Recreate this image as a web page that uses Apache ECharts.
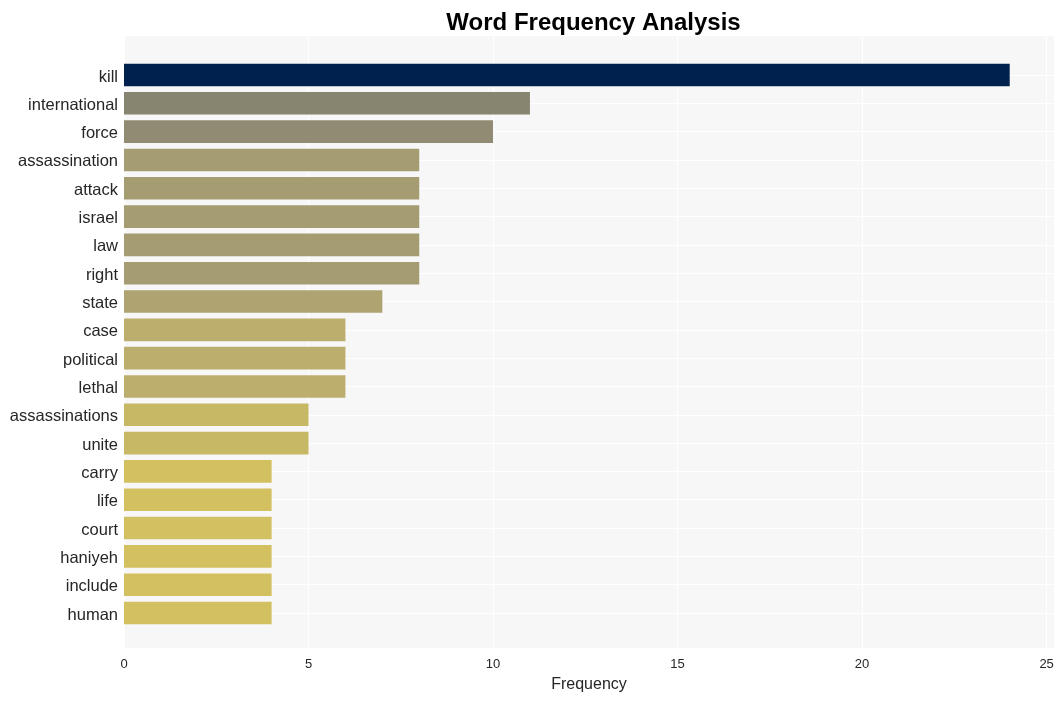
<!DOCTYPE html>
<html>
<head>
<meta charset="utf-8">
<script src="https://cdn.jsdelivr.net/npm/echarts@6/dist/echarts.min.js"></script>
<style>html,body{margin:0;padding:0;background:#fff}#c{width:1064px;height:701px}</style>
</head>
<body>
<div id="c"></div>
<script>
var categories = ["kill","international","force","assassination","attack","israel","law","right","state","case","political","lethal","assassinations","unite","carry","life","court","haniyeh","include","human"];
var frequencies = [24,11,10,8,8,8,8,8,7,6,6,6,5,5,4,4,4,4,4,4];
var xTicks = [0,5,10,15,20,25];

var colorByValue = {24:'#00214e',11:'#87846f',10:'#918b73',8:'#a69c72',7:'#aea371',6:'#bcae6c',5:'#c7b865',4:'#d3c060'};

var chart = echarts.init(document.getElementById('c'));
var txt = '#262626';
var ff = 'Liberation Sans, Arial, sans-serif';
chart.setOption({
  animation:false,
  backgroundColor:'#ffffff',
  title:{text:'Word Frequency Analysis',left:588.5,top:6,textAlign:'center',
    textStyle:{fontFamily:ff,fontSize:24,fontWeight:'bold',color:'#000'}},
  grid:[
    {left:124,right:10,top:36,bottom:53,show:true,backgroundColor:'#f7f7f7',borderWidth:0},
    {left:124,right:10,top:75,bottom:88}
  ],
  xAxis:[
    {gridIndex:0,type:'value',min:0,max:25.2,interval:5,
      axisLine:{show:false},axisTick:{show:false},
      splitLine:{show:true,lineStyle:{color:'#ffffff',width:1}},
      axisLabel:{margin:10,color:txt,fontSize:13,fontFamily:ff,showMaxLabel:false,
        formatter:function(v){return xTicks.indexOf(v)>=0?String(v):'';}},
      name:'Frequency',nameLocation:'middle',nameGap:29,
      nameTextStyle:{color:txt,fontSize:16,fontFamily:ff}},
    {gridIndex:1,type:'value',min:0,max:25.2,show:false,splitLine:{show:false}}
  ],
  yAxis:[
    {gridIndex:0,type:'value',show:false,splitLine:{show:false}},
    {gridIndex:1,type:'category',data:categories,inverse:true,boundaryGap:false,
      axisLine:{show:false},axisTick:{show:false},
      splitLine:{show:true,lineStyle:{color:'#ffffff',width:1}},
      axisLabel:{margin:6,color:txt,fontSize:16.5,fontFamily:ff,
        formatter:function(v){return '{a|'+v+'}';},
        rich:{a:{color:txt,fontSize:16.5,fontFamily:ff,padding:[4,0,0,0]}}}}
  ],
  series:[{
    type:'bar',xAxisIndex:1,yAxisIndex:1,clip:false,barWidth:22.6,
    data:frequencies.map(function(v){return {value:v,itemStyle:{color:colorByValue[v]}};})
  }]
});
</script>
</body>
</html>
